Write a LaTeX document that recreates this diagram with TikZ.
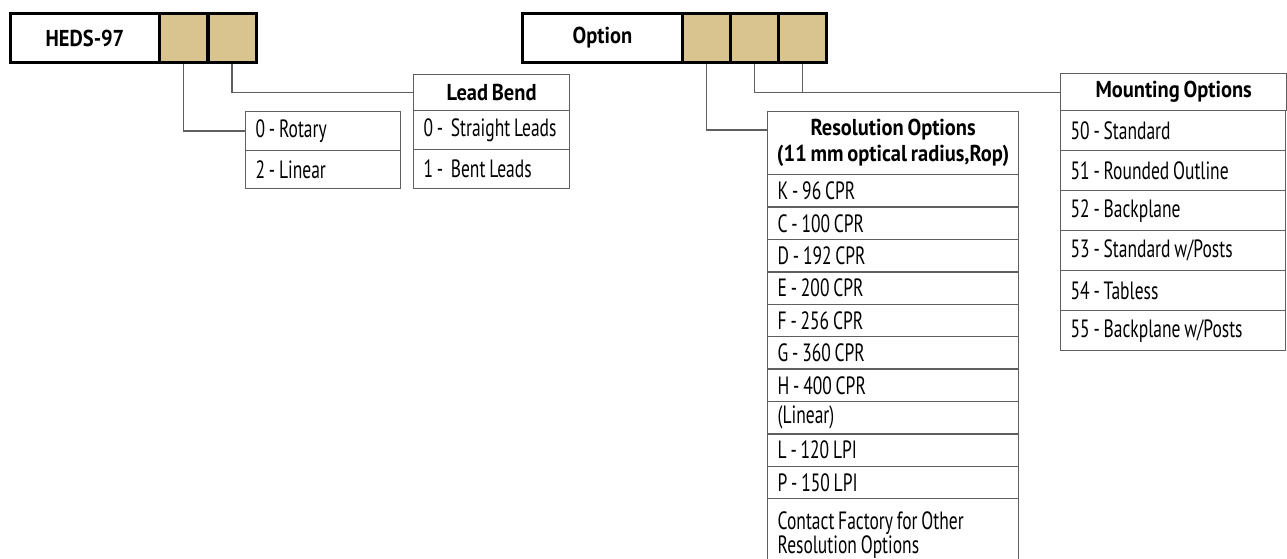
\documentclass[tikz,border=0pt]{standalone}
\usepackage{fontspec}
\setmainfont{PT Sans}[FakeStretch=0.70, BoldFeatures={FakeStretch=0.89}]
\usepackage{tikz}
\usetikzlibrary{positioning}
\definecolor{gold}{RGB}{217,196,143}
\definecolor{linegray}{RGB}{95,95,95}
\newcommand{\tightspace}{\spaceskip=3.8pt plus 1pt\relax}
\tikzstyle{codebox} = [draw=black, line width=3pt, anchor=north west, inner sep=0pt,
	minimum height=49pt, font=\fontsize{23}{26}\selectfont\bfseries]
\tikzstyle{goldbox} = [codebox, fill=gold, minimum width=48pt]
\tikzstyle{cell} = [draw=linegray, line width=1.3pt, anchor=north west, inner xsep=10pt,
	inner ysep=0pt, align=flush left, font=\fontsize{25}{24}\selectfont\tightspace]
\tikzstyle{head} = [draw=linegray, line width=1.3pt, anchor=north west, inner sep=0pt,
	align=flush center, font=\fontsize{23}{26}\selectfont\bfseries\tightspace]
\tikzstyle{link} = [draw=linegray, line width=1.3pt]

\begin{document}
\begin{tikzpicture}[x=1pt, y=-1pt]
			\useasboundingbox (0,0) rectangle (1287,558);
			\clip (0,0) rectangle (1287,558);
			
			% part number boxes
			\node [codebox, minimum width=149pt] (heds) at (9,12) {HEDS-97};
			\foreach \i in {1,2}{
				\node [goldbox] (hg\i) at ({158+48.5*(\i-1)},12) {};
			}
			\node [codebox, minimum width=160pt] (opt) at (521,12) {Option};
			\foreach \i in {1,2,3}{
				\node [goldbox] (og\i) at ({681+48*(\i-1)},12) {};
			}
			
			% type
			\node [cell, text width=135pt, minimum height=38.5pt] (rotary) at (245,111) {0 - Rotary};
			\node [cell, text width=135pt, minimum height=38.5pt] (linear) at (245,149.5) {2 - Linear};
			
			% lead bend
			\node [head, minimum width=156pt, minimum height=36pt] (leadhead) at (413,74) {Lead Bend};
			\node [cell, text width=136pt, minimum height=39pt] (lead0) at (413,110) {\mbox{0 - \ Straight Leads}};
			\node [cell, text width=136pt, minimum height=39pt] (lead1) at (413,149) {\mbox{1 - \ Bent Leads}};
			
			% resolution
			\node [head, minimum width=251pt, minimum height=63pt] (reshead) at (767,111)
				{Resolution Options\\(11 mm optical radius,Rop)};
			\foreach \t [count=\i] in {K - 96 CPR, C - 100 CPR, D - 192 CPR, E - 200 CPR,
				F - 256 CPR, G - 360 CPR, H - 400 CPR, (Linear), L - 120 LPI, P - 150 LPI}{
				\node [cell, text width=231pt, minimum height=32.4pt] (res\i) at (767,{174+32.4*(\i-1)}) {\t};
			}
			\node [cell, text width=231pt, minimum height=72pt] (rescontact) at (767,498)
				{Contact Factory for Other\\Resolution Options};
			
			% mounting
			\node [head, minimum width=226pt, minimum height=37pt] (mounthead) at (1060,73) {Mounting Options};
			\foreach \t [count=\i] in {50 - Standard, 51 - Rounded Outline, 52 - Backplane,
				53 - Standard w/Posts, 54 - Tabless, 55 - Backplane w/Posts}{
				\node [cell, text width=205pt, minimum height=40pt] (mount\i) at (1060,{110+40*(\i-1)}) {\t};
			}
			
			% connectors
			\draw [link] (hg1.south) |- (rotary.west);
			\draw [link] (hg2.south) |- (leadhead.west);
			\draw [link] (og1.south) |- ([yshift=-19pt]reshead.north west);
			\draw [link] (og2.south) |- (mounthead.west);
			\draw [link] (og3.south) -- (og3.south |- mounthead.west);
			
			\end{tikzpicture}
\end{document}
